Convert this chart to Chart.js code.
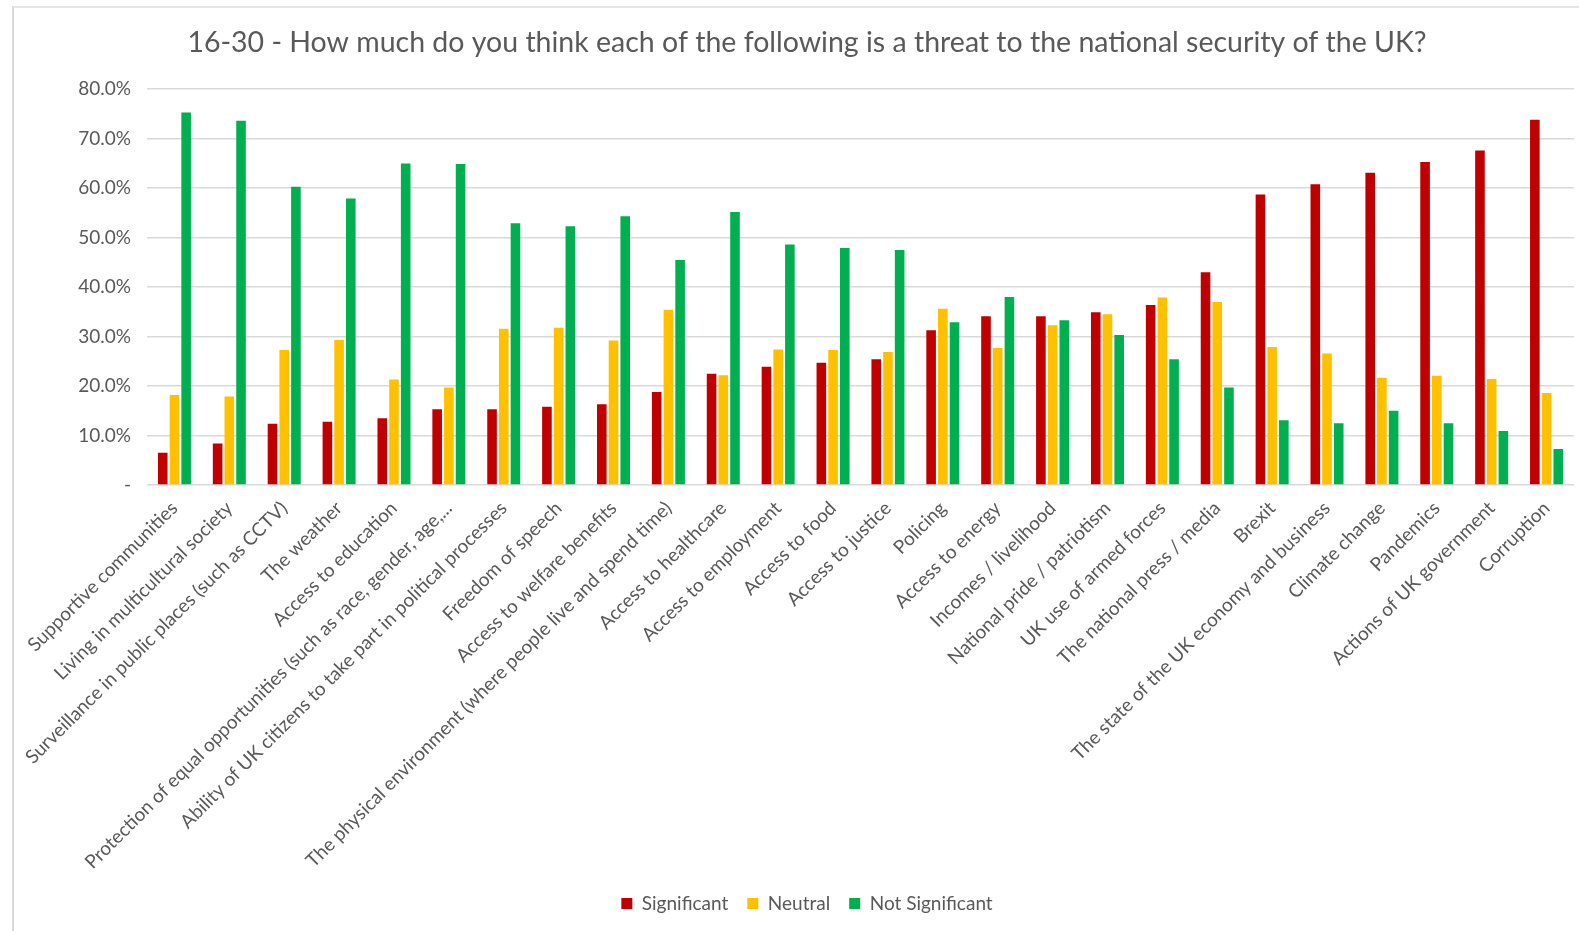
<!DOCTYPE html>
<html>
<head>
<meta charset="utf-8">
<script src="https://cdn.jsdelivr.net/npm/chart.js@4/dist/chart.umd.min.js"></script>
<style>
  html, body { margin: 0; padding: 0; background: #ffffff; }
  #frame { position: absolute; left: 12px; top: 6px; width: 1580px; height: 940px;
           border-left: 2px solid #d9d9d9; border-top: 2px solid #e6e6e6; }
  #wrap { position: absolute; left: 0; top: 0; width: 1579px; height: 931px; }
</style>
</head>
<body>
<div id="frame"></div>
<div id="wrap"><canvas id="c" width="1579" height="931"></canvas></div>
<script>
const categories = [
  "Supportive communities",
  "Living in multicultural society",
  "Surveillance in public places (such as CCTV)",
  "The weather",
  "Access to education",
  "Protection of equal opportunities (such as race, gender, age,...",
  "Ability of UK citizens to take part in political processes",
  "Freedom of speech",
  "Access to welfare benefits",
  "The physical environment (where people live and spend time)",
  "Access to healthcare",
  "Access to employment",
  "Access to food",
  "Access to justice",
  "Policing",
  "Access to energy",
  "Incomes / livelihood",
  "National pride / patriotism",
  "UK use of armed forces",
  "The national press / media",
  "Brexit",
  "The state of the UK economy and business",
  "Climate change",
  "Pandemics",
  "Actions of UK government",
  "Corruption"
];
const significant = [6.5, 8.4, 12.4, 12.8, 13.5, 15.3, 15.3, 15.8, 16.3, 18.8, 22.5, 23.9, 24.7, 25.4, 31.3, 34.1, 34.1, 34.9, 36.4, 43.0, 58.7, 60.8, 63.1, 65.3, 67.6, 73.8];
const neutral     = [18.2, 17.9, 27.3, 29.3, 21.3, 19.7, 31.6, 31.8, 29.2, 35.4, 22.2, 27.4, 27.3, 26.9, 35.6, 27.7, 32.3, 34.5, 37.9, 37.0, 27.9, 26.6, 21.7, 22.1, 21.4, 18.6];
const notSignificant = [75.3, 73.6, 60.3, 57.9, 65.0, 64.9, 52.9, 52.3, 54.3, 45.5, 55.2, 48.6, 47.9, 47.5, 32.9, 38.0, 33.3, 30.3, 25.4, 19.7, 13.1, 12.5, 15.0, 12.5, 10.9, 7.3];
const yTicks = [0, 10, 20, 30, 40, 50, 60, 70, 80];
const titleText = "16-30 - How much do you think each of the following is a threat to the national security of the UK?";

const textColor = "#595959";
const fontFamily = "Lato, 'Open Sans', sans-serif";

new Chart(document.getElementById("c"), {
  type: "bar",
  data: {
    labels: categories,
    datasets: [
      { label: "Significant", data: significant, backgroundColor: "#C00000" },
      { label: "Neutral", data: neutral, backgroundColor: "#FFC000" },
      { label: "Not Significant", data: notSignificant, backgroundColor: "#00B050" }
    ]
  },
  options: {
    responsive: false,
    animation: false,
    devicePixelRatio: 1,
    layout: { padding: { left: 40, right: 5, top: 0, bottom: 8 } },
    datasets: { bar: { categoryPercentage: 0.64, barPercentage: 0.82 } },
    plugins: {
      title: {
        display: true,
        text: titleText,
        color: textColor,
        font: { family: fontFamily, size: 28.5, weight: "normal" },
        padding: { top: 26, bottom: 29 }
      },
      legend: {
        position: "bottom",
        labels: {
          color: textColor,
          font: { family: fontFamily, size: 19 },
          boxWidth: 11,
          boxHeight: 11,
          padding: 19
        }
      },
      tooltip: { enabled: false }
    },
    scales: {
      x: {
        grid: { display: false },
        border: { display: false },
        ticks: {
          color: textColor,
          font: { family: fontFamily, size: 19 },
          maxRotation: 45,
          minRotation: 45,
          autoSkip: false,
          padding: 4
        },
        afterFit: (s) => { s.height = 390; }
      },
      y: {
        min: 0,
        max: 80,
        afterBuildTicks: (s) => { s.ticks = yTicks.map(v => ({ value: v })); },
        grid: { color: "#d9d9d9", lineWidth: 1.5, drawTicks: false },
        border: { display: false },
        ticks: {
          color: textColor,
          font: { family: fontFamily, size: 19 },
          padding: 16,
          callback: (v) => v === 0 ? "-" : v.toFixed(1) + "%"
        },
        afterFit: (s) => { s.width = 107; }
      }
    }
  }
});
</script>
</body>
</html>
